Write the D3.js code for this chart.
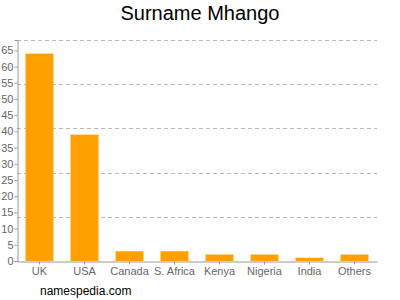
<!DOCTYPE html>
<html>
<head>
<meta charset="utf-8">
<script src="https://cdn.jsdelivr.net/npm/d3@7"></script>
<style>
  body { margin: 0; background: #fff; }
  text { font-family: "Liberation Sans", Arial, sans-serif; }
</style>
</head>
<body>
<div id="chart"></div>
<script>
const countries = ["UK", "USA", "Canada", "S. Africa", "Kenya", "Nigeria", "India", "Others"];
const counts = [64, 39, 3, 3, 2, 2, 1, 2];
const yTicks = [0, 5, 10, 15, 20, 25, 30, 35, 40, 45, 50, 55, 60, 65];

const width = 400;
const height = 300;
const margin = { top: 40, right: 23, bottom: 39, left: 17 };

const svg = d3.select("#chart")
    .append("svg")
    .attr("width", width)
    .attr("height", height);

const x = d3.scaleBand()
    .domain(countries)
    .range([margin.left, width - margin.right])
    .paddingInner(0.38)
    .paddingOuter(0.19);

const y = d3.scaleLinear()
    .domain([0, 68.2])
    .range([height - margin.bottom, margin.top]);

// dashed grid, 5 equal steps of the plot height
const plotH = height - margin.bottom - margin.top;
const gridYs = d3.range(0, 5).map(i => margin.top + i * plotH / 5);
svg.selectAll(".grid")
    .data(gridYs)
    .enter().append("line")
    .attr("class", "grid")
    .attr("x1", margin.left)
    .attr("x2", width - margin.right)
    .attr("y1", d => Math.round(d) + 0.5)
    .attr("y2", d => Math.round(d) + 0.5)
    .attr("stroke", "#b8b8b8")
    .attr("stroke-dasharray", "4,3");

svg.selectAll(".bar")
    .data(countries)
    .enter().append("rect")
    .attr("class", "bar")
    .attr("x", d => x(d))
    .attr("width", x.bandwidth())
    .attr("y", (d, i) => y(counts[i]))
    .attr("height", (d, i) => y(0) - y(counts[i]))
    .attr("fill", "#ffa000");

const yAxis = svg.append("g")
    .attr("transform", `translate(${margin.left + 0.5},0)`)
    .call(d3.axisLeft(y).tickValues(yTicks).tickSize(3).tickPadding(1));

const xAxis = svg.append("g")
    .attr("transform", `translate(0,${height - margin.bottom + 0.5})`)
    .call(d3.axisBottom(x).tickSize(3).tickPadding(3).tickSizeOuter(0));

[yAxis, xAxis].forEach(g => {
    g.select(".domain").attr("stroke", "#999");
    g.selectAll(".tick line").attr("stroke", "#999");
    g.selectAll(".tick text")
        .attr("fill", "#666")
        .style("font-size", "11px")
        .style("font-family", "\"Liberation Sans\", Arial, sans-serif");
});

svg.append("text")
    .attr("x", width / 2)
    .attr("y", 20)
    .attr("text-anchor", "middle")
    .style("font-size", "20px")
    .attr("fill", "#000")
    .text("Surname Mhango");

svg.append("text")
    .attr("x", 40)
    .attr("y", 295)
    .style("font-size", "12px")
    .attr("fill", "#000")
    .text("namespedia.com");
</script>
</body>
</html>
